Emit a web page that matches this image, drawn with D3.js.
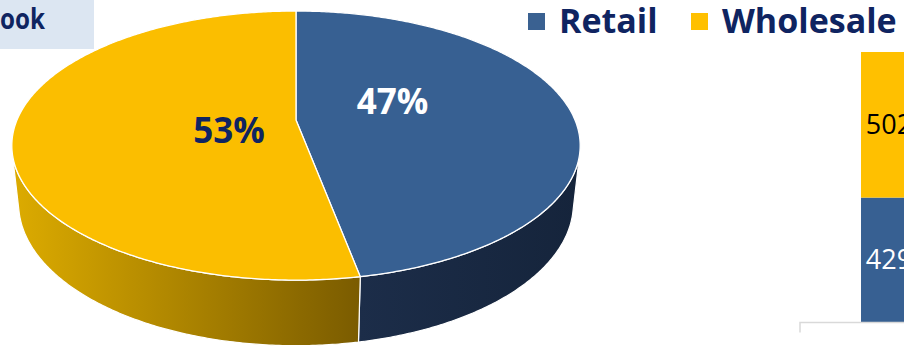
<!DOCTYPE html>
<html lang="en">
<head>
<meta charset="UTF-8">
<title>Retail vs Wholesale</title>
<script src="https://d3js.org/d3.v7.min.js"></script>
<style>
  body { margin: 0; background: #fff; }
  svg { display: block; font-family: "Open Sans", sans-serif; }
</style>
</head>
<body>
<div id="chart"></div>
<script>
// pie: share of each channel (%)
const pieNames = ["Retail", "Wholesale"];
const pieShares = [47, 53];
// stacked bar on the right edge (cut off in the picture)
const barCategories = ["Total"];
const barRetail = [429];
const barWholesale = [502];
const headerText = "ook";

const W = 904, H = 348;
const navy = "#0f2461";
const topColor = { Retail: "#376092", Wholesale: "#fbbe00" };

const svg = d3.select("#chart").append("svg")
    .attr("width", W)
    .attr("height", H);

const defs = svg.append("defs");
function hGrad(id, x1, x2, c1, c2) {
    const g = defs.append("linearGradient").attr("id", id)
        .attr("gradientUnits", "userSpaceOnUse")
        .attr("x1", x1).attr("x2", x2).attr("y1", 0).attr("y2", 0);
    g.append("stop").attr("offset", 0).attr("stop-color", c1);
    g.append("stop").attr("offset", 1).attr("stop-color", c2);
}
hGrad("side-Wholesale", 14, 358, "#dcab00", "#7b5c00");
hGrad("side-Retail", 358, 580, "#1c2d49", "#15243b");

// header box (top-left)
svg.append("rect").attr("x", 0).attr("y", 0).attr("width", 94).attr("height", 49)
    .attr("fill", "#dce6f2");
svg.append("text").attr("x", 0).attr("y", 29)
    .attr("font-size", 28).attr("font-weight", 700).attr("fill", navy)
    .attr("textLength", 45).attr("lengthAdjust", "spacingAndGlyphs")
    .text(headerText);

// ---- 3D pie: perspective projection of a tilted disc ----
const cx = 296, cy = 120, R = 279, T = 66, D = 1300;
const tilt = 27.7 * Math.PI / 180;
const sinA = Math.sin(tilt), cosA = Math.cos(tilt);

function project(x, y, z) {
    const camY = y * cosA - z * sinA;
    const depth = D - (y * sinA + z * cosA);
    return [cx + D * x / depth, cy - D * camY / depth];
}
// angle measured clockwise from 12 o'clock (far side of the disc)
function rim(a, y) {
    return project(R * Math.sin(a), y, -R * Math.cos(a));
}
function arcPts(a0, a1, y) {
    const n = Math.max(2, Math.ceil(Math.abs(a1 - a0) / 0.01));
    return d3.range(n + 1).map(i => rim(a0 + (a1 - a0) * i / n, y));
}

const pie = d3.pie().sort(null).value(d => d.value);
const slices = pie(pieNames.map((n, i) => ({ name: n, value: pieShares[i] })));
const line = d3.line();

// visible part of the outer wall
const k = Math.acos(-R / (D * cosA));
const visStart = k, visEnd = 2 * Math.PI - k;

const gPie = svg.append("g");

slices.forEach(s => {
    const a0 = Math.max(s.startAngle, visStart), a1 = Math.min(s.endAngle, visEnd);
    if (a1 <= a0) return;
    const pts = arcPts(a0, a1, 0).concat(arcPts(a1, a0, -T));
    gPie.append("path")
        .attr("d", line(pts) + "Z")
        .attr("fill", `url(#side-${s.data.name})`)
        .attr("stroke", "#ffffff")
        .attr("stroke-width", 1.2)
        .attr("stroke-linejoin", "round");
});

slices.forEach(s => {
    const pts = [[cx, cy]].concat(arcPts(s.startAngle, s.endAngle, 0));
    gPie.append("path")
        .attr("d", line(pts) + "Z")
        .attr("fill", topColor[s.data.name])
        .attr("stroke", "#ffffff")
        .attr("stroke-width", 1.3)
        .attr("stroke-linejoin", "round");
});

// percent labels
const labelStyle = {
    Retail: { r: 0.35, dy: -2, fill: "#ffffff" },
    Wholesale: { r: 0.24, dy: 20, fill: navy }
};
slices.forEach(s => {
    const st = labelStyle[s.data.name];
    const a = (s.startAngle + s.endAngle) / 2;
    const p = project(R * st.r * Math.sin(a), 0, -R * st.r * Math.cos(a));
    gPie.append("text")
        .attr("x", p[0]).attr("y", p[1] + st.dy)
        .attr("text-anchor", "middle")
        .attr("font-size", 35).attr("font-weight", 700)
        .attr("fill", st.fill)
        .text(s.data.value + "%");
});

// ---- legend ----
const legendX = [528, 691];
const legend = svg.append("g");
pieNames.forEach((n, i) => {
    legend.append("rect").attr("x", legendX[i]).attr("y", 13)
        .attr("width", 17).attr("height", 17)
        .attr("fill", n === "Retail" ? "#3a6191" : "#ffc000");
    legend.append("text").attr("x", legendX[i] + 31).attr("y", 33)
        .attr("font-size", 34).attr("font-weight", 700).attr("fill", navy)
        .text(n);
});

// ---- stacked bar (right) ----
const yBar = d3.scaleLinear()
    .domain([0, d3.max(barRetail.map((v, i) => v + barWholesale[i]))])
    .range([322, 52]);
const xBar = d3.scaleBand().domain(barCategories).range([800, 978])
    .paddingInner(0.5).paddingOuter(0.545);

const stackData = barCategories.map((c, i) => ({ cat: c, Retail: barRetail[i], Wholesale: barWholesale[i] }));
const series = d3.stack().keys(["Retail", "Wholesale"])(stackData);
const barFill = { Retail: "#376092", Wholesale: "#ffc000" };
const labelFill = { Retail: "#ffffff", Wholesale: "#000000" };

const gBar = svg.append("g");
series.forEach(ser => {
    gBar.selectAll(null).data(ser).enter().append("rect")
        .attr("x", d => xBar(d.data.cat))
        .attr("y", d => yBar(d[1]))
        .attr("width", xBar.bandwidth())
        .attr("height", d => yBar(d[0]) - yBar(d[1]))
        .attr("fill", barFill[ser.key]);
    gBar.selectAll(null).data(ser).enter().append("text")
        .attr("x", d => xBar(d.data.cat) + xBar.bandwidth() / 2)
        .attr("y", d => (yBar(d[0]) + yBar(d[1])) / 2)
        .attr("dy", "0.35em")
        .attr("text-anchor", "middle")
        .attr("font-size", 27)
        .attr("fill", labelFill[ser.key])
        .text(d => d[1] - d[0]);
});

// category axis line with the first tick
const axisY = yBar(0) + 0.5;
gBar.append("path")
    .attr("d", `M${xBar.range()[0]},${axisY + 10}V${axisY}H${W}`)
    .attr("fill", "none")
    .attr("stroke", "#d9d9d9")
    .attr("stroke-width", 1.5);
</script>
</body>
</html>
